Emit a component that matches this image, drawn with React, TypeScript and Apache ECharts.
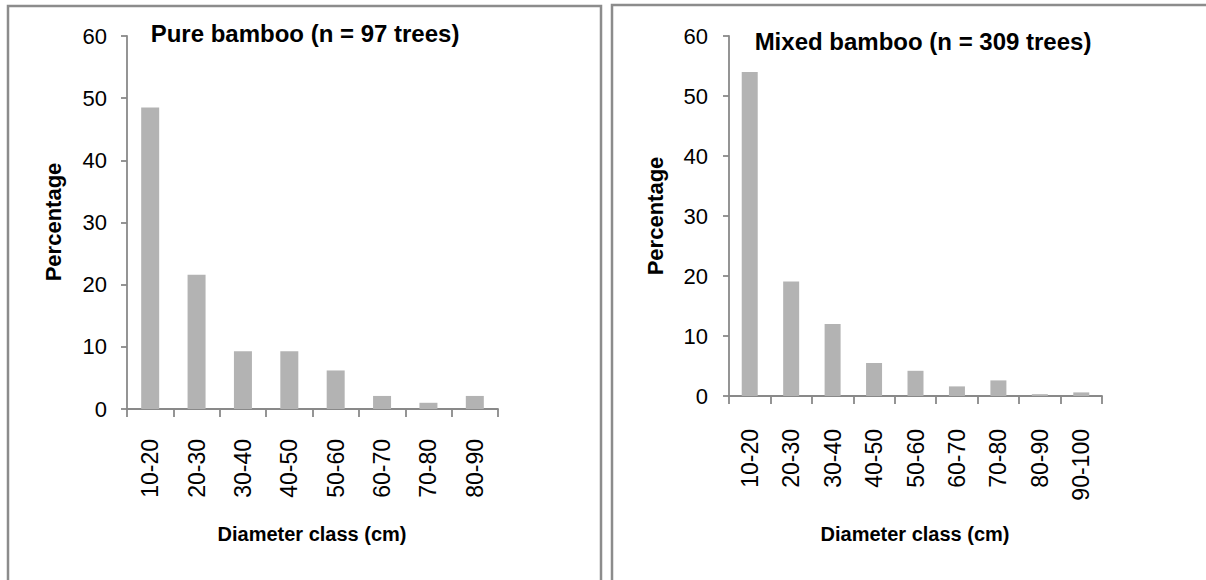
import React, { useEffect, useRef } from "react";
import * as echarts from "echarts";

const pureCategories = ["10-20", "20-30", "30-40", "40-50", "50-60", "60-70", "70-80", "80-90"];
const pureValues = [48.5, 21.6, 9.3, 9.3, 6.2, 2.1, 1.0, 2.1];

const mixedCategories = ["10-20", "20-30", "30-40", "40-50", "50-60", "60-70", "70-80", "80-90", "90-100"];
const mixedValues = [54.0, 19.1, 12.0, 5.5, 4.2, 1.6, 2.6, 0.3, 0.6];

const yTicks = { min: 0, max: 60, interval: 10 };

const pureTitle = "Pure bamboo (n = 97 trees)";
const mixedTitle = "Mixed bamboo (n = 309 trees)";
const yName = "Percentage";
const xName = "Diameter class (cm)";

const FONT = "'Liberation Sans', Arial, sans-serif";
const AXIS_COLOR = "#898989";
const BAR_COLOR = "#b3b3b3";

export default function App() {
  const ref = useRef<HTMLDivElement>(null);

  useEffect(() => {
    if (!ref.current) return;
    const chart = echarts.init(ref.current, undefined, { renderer: "svg" });

    const xAxisBase = (data: string[], gridIndex: number, margin: number) => ({
      type: "category" as const,
      gridIndex,
      data,
      boundaryGap: true,
      axisLine: { show: true, lineStyle: { color: AXIS_COLOR, width: 1.8 } },
      axisTick: { show: true, length: 8, alignWithLabel: false, lineStyle: { color: AXIS_COLOR, width: 1.8 } },
      axisLabel: { rotate: 90, margin, color: "#000", fontSize: 23, fontFamily: FONT, interval: 0 },
      splitLine: { show: false },
    });

    const yAxisBase = (gridIndex: number, margin: number) => ({
      type: "value" as const,
      gridIndex,
      min: yTicks.min,
      max: yTicks.max,
      interval: yTicks.interval,
      axisLine: { show: true, lineStyle: { color: AXIS_COLOR, width: 1.8 } },
      axisTick: { show: true, length: 6, inside: false, lineStyle: { color: AXIS_COLOR, width: 1.8 } },
      axisLabel: { margin, color: "#000", fontSize: 22, fontFamily: FONT },
      splitLine: { show: false },
    });

    const textStyle = (text: string, size: number) => ({
      text,
      fill: "#000",
      font: `bold ${size}px ${FONT}`,
      textAlign: "center",
      textVerticalAlign: "middle",
    });

    chart.setOption({
      animation: false,
      backgroundColor: "#fff",
      grid: [
        { left: 127, top: 36, width: 371, height: 373 },
        { left: 729, top: 36, width: 373, height: 360 },
      ],
      xAxis: [xAxisBase(pureCategories, 0, 30), xAxisBase(mixedCategories, 1, 33)],
      yAxis: [yAxisBase(0, 20), yAxisBase(1, 21)],
      series: [
        {
          type: "bar",
          xAxisIndex: 0,
          yAxisIndex: 0,
          data: pureValues,
          barWidth: 18,
          itemStyle: { color: BAR_COLOR },
        },
        {
          type: "bar",
          xAxisIndex: 1,
          yAxisIndex: 1,
          data: mixedValues,
          barWidth: 16,
          itemStyle: { color: BAR_COLOR },
        },
      ],
      graphic: [
        {
          type: "rect",
          shape: { x: 8, y: 6, width: 593, height: 600 },
          style: { fill: "none", stroke: "#8c8c8c", lineWidth: 2.5 },
          silent: true,
        },
        {
          type: "rect",
          shape: { x: 612, y: 5, width: 620, height: 600 },
          style: { fill: "none", stroke: "#8c8c8c", lineWidth: 2.5 },
          silent: true,
        },
        { type: "text", x: 305, y: 33, style: textStyle(pureTitle, 24) },
        { type: "text", x: 923, y: 41, style: textStyle(mixedTitle, 24) },
        { type: "text", x: 53, y: 222, rotation: Math.PI / 2, style: textStyle(yName, 22) },
        { type: "text", x: 655, y: 216, rotation: Math.PI / 2, style: textStyle(yName, 22) },
        { type: "text", x: 312, y: 534, style: textStyle(xName, 20) },
        { type: "text", x: 915, y: 534, style: textStyle(xName, 20) },
      ],
    });

    return () => chart.dispose();
  }, []);

  return (
    <div
      ref={ref}
      style={{ position: "fixed", left: 0, top: 0, width: 1206, height: 580 }}
    />
  );
}
